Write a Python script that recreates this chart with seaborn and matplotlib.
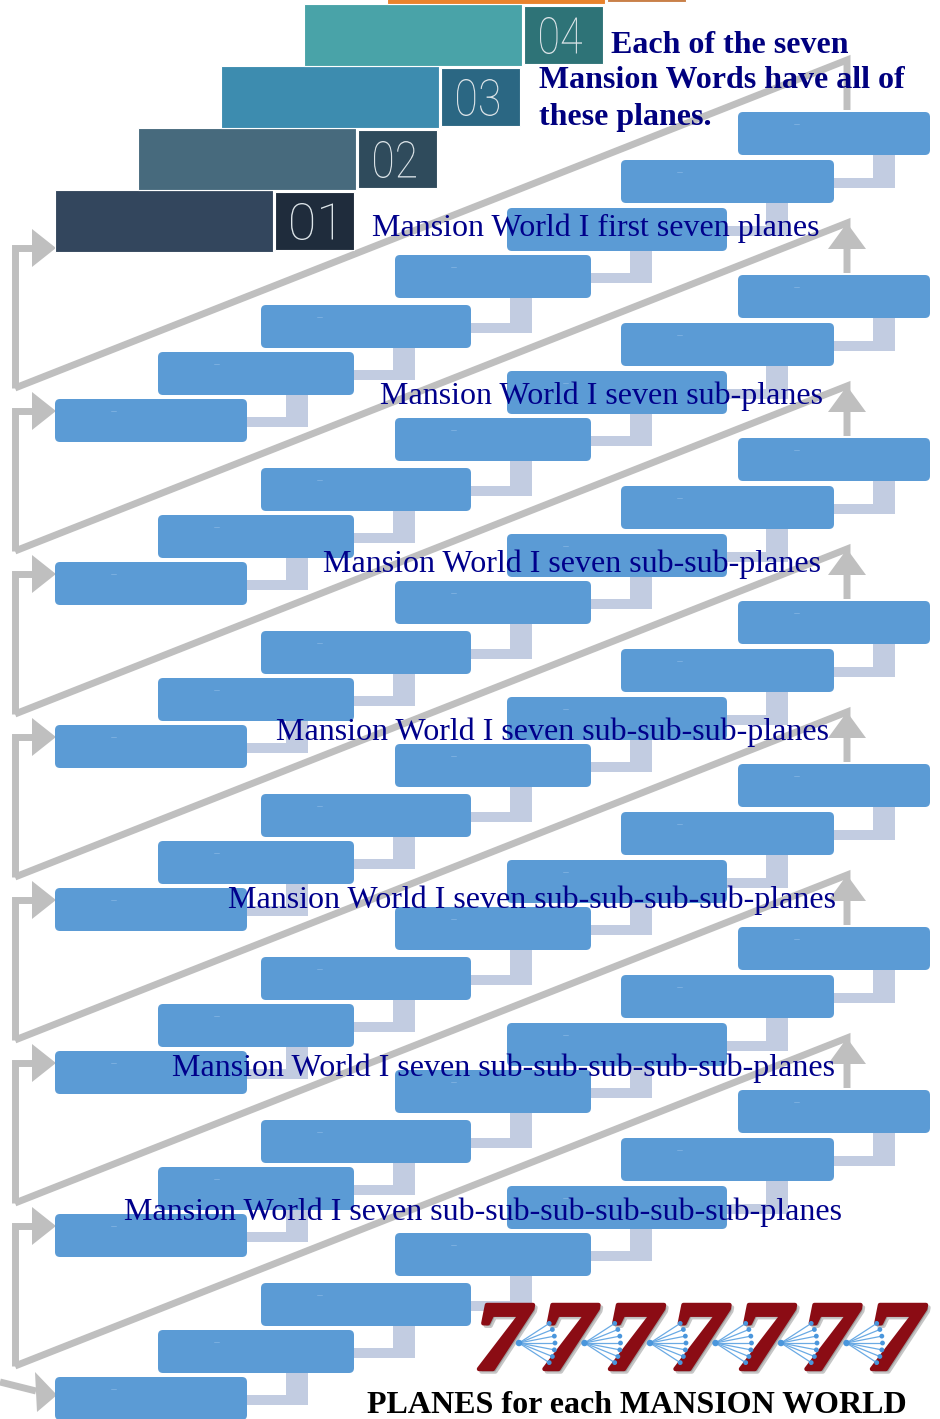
import numpy as np
import pandas as pd
import seaborn as sns
import matplotlib.pyplot as plt
from matplotlib.patches import FancyBboxPatch, Rectangle, Polygon, PathPatch
from matplotlib.textpath import TextPath
from matplotlib.font_manager import FontProperties
from matplotlib.transforms import Affine2D

# --- content ---
heading_lines = ["Each of the seven", "Mansion Words have all of", "these planes."]
plane_labels = [
    "Mansion World I first seven planes",
    "Mansion World I seven sub-planes",
    "Mansion World I seven sub-sub-planes",
    "Mansion World I seven sub-sub-sub-planes",
    "Mansion World I seven sub-sub-sub-sub-planes",
    "Mansion World I seven sub-sub-sub-sub-sub-planes",
    "Mansion World I seven sub-sub-sub-sub-sub-sub-planes",
]
step_numbers = ["01", "02", "03", "04", "05"]
step_colors = ["#33465d", "#476a7d", "#3d8caf", "#49a3a8", "#e9832c"]
tile_colors = ["#1f2c3c", "#2f4b5c", "#2b6783", "#2e7377", "#c98048"]
big_digits = "7777777"
footer = "PLANES for each MANSION WORLD"
n_groups = 7   # rows of plane boxes
n_steps = 7    # boxes per row

# --- layout (pixels, y down) ---
W, H = 940, 1419
GROUP_DY = 163
box_left = [55, 158, 261, 395, 507, 621, 738]
box_right = [247, 354, 471, 591, 727, 834, 930]
box_top0 = [399, 352, 305, 255, 208, 160, 112]
BOX_H = 43
label_x = [596, 601, 572, 552, 532, 503, 483]
label_base = [236, 404, 572, 740, 908, 1076, 1220]

blue = "#5b9bd5"
conn = "#c2cce1"
gray = "#bfbfbf"
navy = "#00008b"
wine = "#8b0c14"

sns.set_theme(style="white")
plt.rcParams["font.family"] = ["Liberation Serif", "DejaVu Serif"]

fig = plt.figure(figsize=(9.4, 14.19), dpi=100)
ax = fig.add_axes([0, 0, 1, 1])
ax.set_xlim(0, W)
ax.set_ylim(H, 0)
ax.axis("off")


def glyph(s, x0, y0, w, h, prop, color, z, alpha=1.0, bold=0.0):
    # text outline squeezed into a box whose top-left is (x0, y0)
    tp = TextPath((0, 0), s, size=100, prop=prop)
    ext = tp.get_extents()
    tr = (Affine2D().translate(-ext.x0, -ext.y1)
          .scale(w / ext.width, -h / ext.height)
          .translate(x0, y0))
    ax.add_patch(PathPatch(tr.transform_path(tp), fc=color,
                           ec=color if bold else "none", lw=bold,
                           joinstyle="round", alpha=alpha, zorder=z))


# gray return arrows
LW = 5.0
for k in range(n_groups):
    off = GROUP_DY * k
    ax.plot([33, 15, 15], [248 + off, 248 + off, 388 + off], color=gray, lw=LW,
            solid_joinstyle="miter", solid_capstyle="butt", zorder=1)
    ax.add_patch(Polygon([[32, 229 + off], [56, 248 + off], [32, 267 + off]],
                         fc=gray, ec="none", zorder=1))
    tip = 60 + off
    ax.plot([15, 847, 847], [388 + off, tip, 110 + off], color=gray, lw=LW,
            solid_joinstyle="miter", solid_capstyle="butt", zorder=1)
    if k:
        ax.add_patch(Polygon([[828, tip + 26], [847, tip], [866, tip + 26]],
                             fc=gray, ec="none", zorder=1))
ax.plot([0, 36], [1382, 1391], color=gray, lw=LW, solid_capstyle="butt", zorder=1)
ax.add_patch(Polygon([[35, 1372], [57, 1395], [37, 1412]], fc=gray, ec="none", zorder=1))

# plane boxes and their elbow connectors
for g in range(n_groups):
    for s in range(n_steps):
        top = box_top0[s] + GROUP_DY * g
        l, r = box_left[s], box_right[s]
        if s < n_steps - 1:
            cy = top + BOX_H / 2
            vr = r + 61
            nb = box_top0[s + 1] + GROUP_DY * g + BOX_H
            ax.add_patch(Rectangle((r - 5, cy - 4), vr - r + 5, 10, fc=conn, ec="none", zorder=2))
            ax.add_patch(Rectangle((vr - 22, nb - 5), 22, cy + 6 - nb + 5, fc=conn, ec="none", zorder=2))
        ax.add_patch(FancyBboxPatch((l, top), r - l, BOX_H,
                                    boxstyle="round,pad=0,rounding_size=5",
                                    fc=blue, ec="none", zorder=3))
        # faint placeholder dash inside each box
        ax.plot([l + 56, l + 61], [top + 12, top + 12], color="#80b2e2", lw=0.6, zorder=3.5)

# numbered staircase at the top
thin = FontProperties(family="Roboto", weight="light")
for i, num in enumerate(step_numbers):
    left = 55 + 83 * i
    top = 190 - 62 * i
    ax.add_patch(Rectangle((left, top), 218, 62, fc=step_colors[i], ec="white", lw=0.8, zorder=4))
    ax.add_patch(Rectangle((left + 220, top + 2), 79, 58, fc=tile_colors[i], ec="white", lw=0.8, zorder=4))
    glyph(num, left + 236, top + 13, 42, 37, thin, "#dce4e8", 5)

# texts
for i, line in enumerate(heading_lines):
    ax.text(611 if i == 0 else 539, [53, 88, 125][i], line, fontsize=23,
            fontweight="bold", color="#00007f", ha="left", va="baseline", zorder=6)
for x, yb, lab in zip(label_x, label_base, plane_labels):
    ax.text(x, yb, lab, fontsize=23, color=navy, ha="center", va="baseline", zorder=6)

# seven sevens with fans between them
seven = FontProperties(family="Liberation Serif", weight="bold", style="italic")
seven_left = [477 + 65.5 * i for i in range(len(big_digits))]
for x0, ch in zip(seven_left, big_digits):
    glyph(ch, x0 + 4.5, 1307.5, 54, 64, seven, "#444444", 5, alpha=0.3, bold=3.2)
    glyph(ch, x0 + 2, 1305, 54, 64, seven, wine, 6, bold=3.2)

ang = np.radians(np.linspace(-33, 33, 7))
rays = []
for i, cx in enumerate(seven_left[:-1]):
    cx = cx + 42
    for j, a in enumerate(ang):
        rays.append({"fan": i, "ray": j, "x0": cx, "y0": 1343,
                     "x1": cx + 36 * np.cos(a), "y1": 1343 + 36 * np.sin(a)})
rays = pd.DataFrame(rays)
for _, rw in rays.iterrows():
    ax.plot([rw.x0, rw.x1], [rw.y0, rw.y1], color="#6aaae4", lw=0.9, zorder=7)
sns.scatterplot(data=rays, x="x1", y="y1", ax=ax, s=12, color="#4a96dc",
                edgecolor="none", zorder=8, legend=False)
centers = rays.drop_duplicates("fan")
sns.scatterplot(data=centers, x="x0", y="y0", ax=ax, s=22, color="#4a96dc",
                edgecolor="none", zorder=8, legend=False)
ax.set_xlim(0, W)
ax.set_ylim(H, 0)
ax.axis("off")

ax.text(637, 1413, footer, fontsize=23, fontweight="bold", color="black",
        ha="center", va="baseline", zorder=6)

fig.savefig("out.png", dpi=100)
